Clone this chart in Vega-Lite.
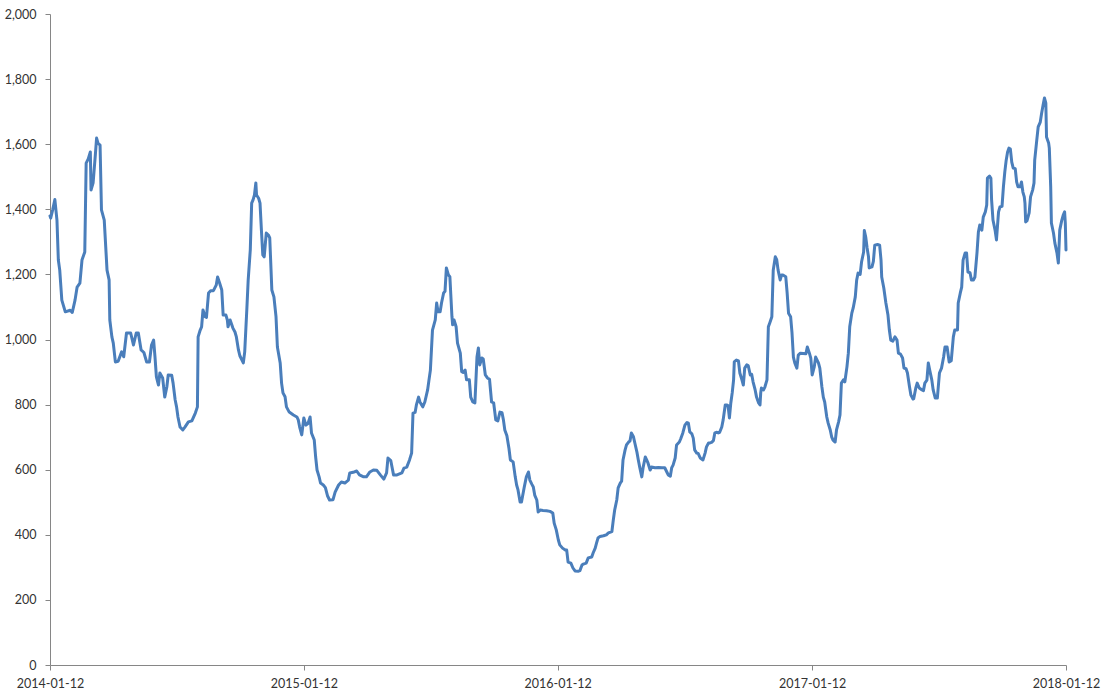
{
  "$schema": "https://vega.github.io/schema/vega-lite/v6.json",
  "width": 1016,
  "height": 651,
  "autosize": {"type": "none"},
  "padding": {"left": 50, "top": 14, "right": 39, "bottom": 34},
  "background": "white",
  "config": {"view": {"stroke": null}},
  "data": {"values": [
{"date":"2014-01-12","value":1380},{"date":"2014-01-13","value":1373},{"date":"2014-01-16","value":1400},{"date":"2014-01-19","value":1430},{"date":"2014-01-22","value":1367},{"date":"2014-01-24","value":1244},{"date":"2014-01-26","value":1213},{"date":"2014-01-29","value":1121},{"date":"2014-02-03","value":1085},{"date":"2014-02-10","value":1090},{"date":"2014-02-13","value":1083},{"date":"2014-02-17","value":1121},{"date":"2014-02-20","value":1161},{"date":"2014-02-24","value":1173},{"date":"2014-02-27","value":1244},{"date":"2014-03-03","value":1269},{"date":"2014-03-05","value":1542},{"date":"2014-03-08","value":1555},{"date":"2014-03-11","value":1576},{"date":"2014-03-12","value":1459},{"date":"2014-03-15","value":1481},{"date":"2014-03-18","value":1562},{"date":"2014-03-20","value":1619},{"date":"2014-03-22","value":1603},{"date":"2014-03-25","value":1597},{"date":"2014-03-27","value":1398},{"date":"2014-03-31","value":1367},{"date":"2014-04-04","value":1213},{"date":"2014-04-07","value":1183},{"date":"2014-04-08","value":1060},{"date":"2014-04-11","value":1008},{"date":"2014-04-13","value":989},{"date":"2014-04-16","value":931},{"date":"2014-04-20","value":933},{"date":"2014-04-25","value":962},{"date":"2014-04-28","value":947},{"date":"2014-05-02","value":1020},{"date":"2014-05-08","value":1020},{"date":"2014-05-12","value":983},{"date":"2014-05-16","value":1020},{"date":"2014-05-19","value":1020},{"date":"2014-05-23","value":968},{"date":"2014-05-27","value":960},{"date":"2014-05-31","value":931},{"date":"2014-06-04","value":931},{"date":"2014-06-07","value":983},{"date":"2014-06-10","value":998},{"date":"2014-06-12","value":946},{"date":"2014-06-14","value":885},{"date":"2014-06-17","value":860},{"date":"2014-06-19","value":897},{"date":"2014-06-23","value":882},{"date":"2014-06-26","value":823},{"date":"2014-06-29","value":854},{"date":"2014-07-01","value":891},{"date":"2014-07-06","value":890},{"date":"2014-07-08","value":866},{"date":"2014-07-11","value":814},{"date":"2014-07-13","value":793},{"date":"2014-07-15","value":762},{"date":"2014-07-18","value":731},{"date":"2014-07-22","value":722},{"date":"2014-07-25","value":731},{"date":"2014-07-30","value":747},{"date":"2014-08-04","value":750},{"date":"2014-08-09","value":774},{"date":"2014-08-12","value":793},{"date":"2014-08-13","value":1008},{"date":"2014-08-16","value":1029},{"date":"2014-08-18","value":1039},{"date":"2014-08-20","value":1091},{"date":"2014-08-23","value":1070},{"date":"2014-08-25","value":1068},{"date":"2014-08-28","value":1143},{"date":"2014-08-31","value":1150},{"date":"2014-09-04","value":1150},{"date":"2014-09-08","value":1167},{"date":"2014-09-10","value":1192},{"date":"2014-09-13","value":1173},{"date":"2014-09-16","value":1152},{"date":"2014-09-18","value":1075},{"date":"2014-09-22","value":1075},{"date":"2014-09-24","value":1060},{"date":"2014-09-25","value":1039},{"date":"2014-09-28","value":1060},{"date":"2014-10-02","value":1035},{"date":"2014-10-05","value":1023},{"date":"2014-10-07","value":1008},{"date":"2014-10-10","value":968},{"date":"2014-10-12","value":950},{"date":"2014-10-17","value":928},{"date":"2014-10-19","value":962},{"date":"2014-10-22","value":1091},{"date":"2014-10-24","value":1183},{"date":"2014-10-27","value":1275},{"date":"2014-10-29","value":1419},{"date":"2014-10-31","value":1429},{"date":"2014-11-02","value":1444},{"date":"2014-11-04","value":1481},{"date":"2014-11-05","value":1444},{"date":"2014-11-08","value":1434},{"date":"2014-11-10","value":1419},{"date":"2014-11-12","value":1336},{"date":"2014-11-14","value":1260},{"date":"2014-11-16","value":1254},{"date":"2014-11-19","value":1327},{"date":"2014-11-22","value":1321},{"date":"2014-11-24","value":1312},{"date":"2014-11-27","value":1152},{"date":"2014-11-30","value":1131},{"date":"2014-12-03","value":1070},{"date":"2014-12-05","value":977},{"date":"2014-12-09","value":928},{"date":"2014-12-11","value":866},{"date":"2014-12-13","value":836},{"date":"2014-12-16","value":824},{"date":"2014-12-18","value":793},{"date":"2014-12-22","value":777},{"date":"2014-12-28","value":768},
{"date":"2015-01-02","value":762},{"date":"2015-01-04","value":753},{"date":"2015-01-06","value":731},{"date":"2015-01-09","value":707},{"date":"2015-01-12","value":759},{"date":"2015-01-15","value":737},{"date":"2015-01-18","value":742},{"date":"2015-01-21","value":762},{"date":"2015-01-23","value":713},{"date":"2015-01-27","value":691},{"date":"2015-01-29","value":639},{"date":"2015-01-31","value":599},{"date":"2015-02-03","value":578},{"date":"2015-02-05","value":559},{"date":"2015-02-09","value":553},{"date":"2015-02-12","value":545},{"date":"2015-02-15","value":520},{"date":"2015-02-18","value":507},{"date":"2015-02-23","value":508},{"date":"2015-02-26","value":531},{"date":"2015-03-03","value":553},{"date":"2015-03-07","value":562},{"date":"2015-03-12","value":559},{"date":"2015-03-17","value":568},{"date":"2015-03-19","value":590},{"date":"2015-03-24","value":592},{"date":"2015-03-29","value":596},{"date":"2015-04-02","value":584},{"date":"2015-04-08","value":578},{"date":"2015-04-12","value":578},{"date":"2015-04-17","value":593},{"date":"2015-04-22","value":599},{"date":"2015-04-27","value":598},{"date":"2015-05-02","value":584},{"date":"2015-05-07","value":571},{"date":"2015-05-11","value":590},{"date":"2015-05-13","value":636},{"date":"2015-05-17","value":628},{"date":"2015-05-21","value":584},{"date":"2015-05-26","value":584},{"date":"2015-06-02","value":590},{"date":"2015-06-05","value":605},{"date":"2015-06-09","value":608},{"date":"2015-06-13","value":630},{"date":"2015-06-16","value":651},{"date":"2015-06-18","value":774},{"date":"2015-06-21","value":776},{"date":"2015-06-23","value":800},{"date":"2015-06-26","value":823},{"date":"2015-06-28","value":808},{"date":"2015-07-02","value":793},{"date":"2015-07-05","value":808},{"date":"2015-07-09","value":845},{"date":"2015-07-11","value":876},{"date":"2015-07-13","value":906},{"date":"2015-07-16","value":1029},{"date":"2015-07-20","value":1060},{"date":"2015-07-22","value":1112},{"date":"2015-07-24","value":1085},{"date":"2015-07-27","value":1085},{"date":"2015-07-29","value":1112},{"date":"2015-08-01","value":1143},{"date":"2015-08-03","value":1148},{"date":"2015-08-05","value":1220},{"date":"2015-08-08","value":1198},{"date":"2015-08-10","value":1193},{"date":"2015-08-13","value":1070},{"date":"2015-08-14","value":1045},{"date":"2015-08-16","value":1060},{"date":"2015-08-19","value":1039},{"date":"2015-08-21","value":989},{"date":"2015-08-25","value":958},{"date":"2015-08-27","value":901},{"date":"2015-08-29","value":899},{"date":"2015-09-01","value":906},{"date":"2015-09-03","value":876},{"date":"2015-09-07","value":876},{"date":"2015-09-09","value":823},{"date":"2015-09-12","value":808},{"date":"2015-09-15","value":805},{"date":"2015-09-18","value":946},{"date":"2015-09-20","value":974},{"date":"2015-09-22","value":922},{"date":"2015-09-25","value":943},{"date":"2015-09-27","value":940},{"date":"2015-09-30","value":891},{"date":"2015-10-03","value":882},{"date":"2015-10-06","value":878},{"date":"2015-10-09","value":808},{"date":"2015-10-12","value":805},{"date":"2015-10-15","value":753},{"date":"2015-10-18","value":750},{"date":"2015-10-21","value":777},{"date":"2015-10-24","value":775},{"date":"2015-10-26","value":753},{"date":"2015-10-28","value":722},{"date":"2015-10-31","value":704},{"date":"2015-11-03","value":665},{"date":"2015-11-05","value":630},{"date":"2015-11-09","value":624},{"date":"2015-11-12","value":578},{"date":"2015-11-14","value":553},{"date":"2015-11-16","value":538},{"date":"2015-11-19","value":501},{"date":"2015-11-21","value":501},{"date":"2015-11-25","value":547},{"date":"2015-11-28","value":578},{"date":"2015-12-01","value":593},{"date":"2015-12-03","value":568},{"date":"2015-12-06","value":555},{"date":"2015-12-08","value":547},{"date":"2015-12-10","value":522},{"date":"2015-12-13","value":507},{"date":"2015-12-15","value":470},{"date":"2015-12-18","value":476},{"date":"2015-12-22","value":475},{"date":"2015-12-27","value":474},
{"date":"2016-01-01","value":472},{"date":"2016-01-05","value":467},{"date":"2016-01-07","value":436},{"date":"2016-01-10","value":415},{"date":"2016-01-13","value":384},{"date":"2016-01-15","value":369},{"date":"2016-01-19","value":359},{"date":"2016-01-23","value":353},{"date":"2016-01-25","value":353},{"date":"2016-01-27","value":316},{"date":"2016-01-31","value":313},{"date":"2016-02-03","value":298},{"date":"2016-02-06","value":289},{"date":"2016-02-11","value":288},{"date":"2016-02-13","value":290},{"date":"2016-02-16","value":307},{"date":"2016-02-18","value":310},{"date":"2016-02-22","value":313},{"date":"2016-02-25","value":329},{"date":"2016-03-01","value":332},{"date":"2016-03-03","value":344},{"date":"2016-03-06","value":359},{"date":"2016-03-08","value":375},{"date":"2016-03-10","value":390},{"date":"2016-03-13","value":395},{"date":"2016-03-18","value":397},{"date":"2016-03-22","value":400},{"date":"2016-03-25","value":406},{"date":"2016-03-30","value":410},{"date":"2016-04-01","value":445},{"date":"2016-04-03","value":476},{"date":"2016-04-06","value":507},{"date":"2016-04-08","value":544},{"date":"2016-04-11","value":559},{"date":"2016-04-13","value":565},{"date":"2016-04-15","value":630},{"date":"2016-04-18","value":661},{"date":"2016-04-20","value":676},{"date":"2016-04-23","value":685},{"date":"2016-04-25","value":688},{"date":"2016-04-27","value":713},{"date":"2016-04-30","value":701},{"date":"2016-05-02","value":682},{"date":"2016-05-05","value":654},{"date":"2016-05-07","value":630},{"date":"2016-05-09","value":608},{"date":"2016-05-12","value":578},{"date":"2016-05-14","value":608},{"date":"2016-05-17","value":639},{"date":"2016-05-19","value":630},{"date":"2016-05-21","value":620},{"date":"2016-05-24","value":599},{"date":"2016-05-26","value":608},{"date":"2016-05-31","value":606},{"date":"2016-06-05","value":607},{"date":"2016-06-10","value":606},{"date":"2016-06-14","value":606},{"date":"2016-06-17","value":593},{"date":"2016-06-19","value":584},{"date":"2016-06-22","value":580},{"date":"2016-06-24","value":606},{"date":"2016-06-26","value":614},{"date":"2016-06-29","value":636},{"date":"2016-07-01","value":676},{"date":"2016-07-05","value":685},{"date":"2016-07-07","value":695},{"date":"2016-07-10","value":713},{"date":"2016-07-13","value":737},{"date":"2016-07-16","value":745},{"date":"2016-07-18","value":743},{"date":"2016-07-20","value":716},{"date":"2016-07-23","value":710},{"date":"2016-07-25","value":697},{"date":"2016-07-27","value":661},{"date":"2016-07-30","value":651},{"date":"2016-08-01","value":650},{"date":"2016-08-04","value":636},{"date":"2016-08-08","value":630},{"date":"2016-08-11","value":651},{"date":"2016-08-13","value":670},{"date":"2016-08-16","value":682},{"date":"2016-08-18","value":682},{"date":"2016-08-21","value":685},{"date":"2016-08-23","value":690},{"date":"2016-08-25","value":713},{"date":"2016-08-28","value":715},{"date":"2016-08-30","value":713},{"date":"2016-09-01","value":715},{"date":"2016-09-04","value":731},{"date":"2016-09-06","value":753},{"date":"2016-09-09","value":799},{"date":"2016-09-11","value":799},{"date":"2016-09-13","value":797},{"date":"2016-09-15","value":759},{"date":"2016-09-17","value":805},{"date":"2016-09-19","value":836},{"date":"2016-09-21","value":876},{"date":"2016-09-22","value":931},{"date":"2016-09-25","value":937},{"date":"2016-09-28","value":934},{"date":"2016-09-30","value":897},{"date":"2016-10-03","value":876},{"date":"2016-10-05","value":860},{"date":"2016-10-07","value":912},{"date":"2016-10-10","value":922},{"date":"2016-10-12","value":920},{"date":"2016-10-15","value":891},{"date":"2016-10-17","value":893},{"date":"2016-10-19","value":870},{"date":"2016-10-22","value":845},{"date":"2016-10-24","value":823},{"date":"2016-10-27","value":805},{"date":"2016-10-29","value":799},{"date":"2016-10-30","value":836},{"date":"2016-10-31","value":851},{"date":"2016-11-03","value":845},{"date":"2016-11-05","value":854},{"date":"2016-11-08","value":876},{"date":"2016-11-10","value":1039},{"date":"2016-11-12","value":1051},{"date":"2016-11-15","value":1070},{"date":"2016-11-17","value":1213},{"date":"2016-11-20","value":1254},{"date":"2016-11-22","value":1245},{"date":"2016-11-24","value":1213},{"date":"2016-11-27","value":1183},{"date":"2016-11-29","value":1198},{"date":"2016-12-01","value":1198},{"date":"2016-12-05","value":1193},{"date":"2016-12-07","value":1143},{"date":"2016-12-09","value":1081},{"date":"2016-12-12","value":1070},{"date":"2016-12-14","value":1020},{"date":"2016-12-16","value":946},{"date":"2016-12-18","value":928},{"date":"2016-12-21","value":912},{"date":"2016-12-23","value":952},{"date":"2016-12-26","value":958},{"date":"2016-12-30","value":957},
{"date":"2017-01-03","value":956},{"date":"2017-01-05","value":977},{"date":"2017-01-08","value":958},{"date":"2017-01-10","value":943},{"date":"2017-01-12","value":891},{"date":"2017-01-15","value":916},{"date":"2017-01-17","value":946},{"date":"2017-01-21","value":928},{"date":"2017-01-23","value":912},{"date":"2017-01-26","value":854},{"date":"2017-01-28","value":823},{"date":"2017-01-30","value":808},{"date":"2017-02-02","value":762},{"date":"2017-02-04","value":743},{"date":"2017-02-07","value":722},{"date":"2017-02-09","value":701},{"date":"2017-02-11","value":691},{"date":"2017-02-14","value":685},{"date":"2017-02-16","value":722},{"date":"2017-02-19","value":747},{"date":"2017-02-21","value":768},{"date":"2017-02-23","value":866},{"date":"2017-02-26","value":876},{"date":"2017-02-28","value":870},{"date":"2017-03-03","value":916},{"date":"2017-03-05","value":958},{"date":"2017-03-07","value":1039},{"date":"2017-03-10","value":1081},{"date":"2017-03-12","value":1097},{"date":"2017-03-15","value":1131},{"date":"2017-03-17","value":1183},{"date":"2017-03-19","value":1204},{"date":"2017-03-22","value":1200},{"date":"2017-03-24","value":1238},{"date":"2017-03-27","value":1269},{"date":"2017-03-28","value":1335},{"date":"2017-03-30","value":1315},{"date":"2017-04-01","value":1281},{"date":"2017-04-03","value":1254},{"date":"2017-04-04","value":1220},{"date":"2017-04-08","value":1223},{"date":"2017-04-10","value":1240},{"date":"2017-04-12","value":1290},{"date":"2017-04-16","value":1292},{"date":"2017-04-19","value":1290},{"date":"2017-04-21","value":1244},{"date":"2017-04-22","value":1192},{"date":"2017-04-25","value":1158},{"date":"2017-04-28","value":1112},{"date":"2017-05-01","value":1075},{"date":"2017-05-03","value":1029},{"date":"2017-05-05","value":998},{"date":"2017-05-08","value":995},{"date":"2017-05-11","value":1008},{"date":"2017-05-14","value":998},{"date":"2017-05-16","value":958},{"date":"2017-05-19","value":955},{"date":"2017-05-22","value":943},{"date":"2017-05-24","value":912},{"date":"2017-05-27","value":910},{"date":"2017-05-29","value":897},{"date":"2017-06-01","value":854},{"date":"2017-06-03","value":829},{"date":"2017-06-06","value":817},{"date":"2017-06-07","value":818},{"date":"2017-06-10","value":851},{"date":"2017-06-12","value":866},{"date":"2017-06-15","value":851},{"date":"2017-06-19","value":845},{"date":"2017-06-21","value":843},{"date":"2017-06-23","value":866},{"date":"2017-06-26","value":875},{"date":"2017-06-28","value":928},{"date":"2017-06-30","value":906},{"date":"2017-07-03","value":876},{"date":"2017-07-05","value":845},{"date":"2017-07-08","value":820},{"date":"2017-07-11","value":820},{"date":"2017-07-14","value":897},{"date":"2017-07-17","value":912},{"date":"2017-07-20","value":946},{"date":"2017-07-22","value":977},{"date":"2017-07-25","value":977},{"date":"2017-07-28","value":931},{"date":"2017-07-31","value":935},{"date":"2017-08-03","value":1008},{"date":"2017-08-05","value":1029},{"date":"2017-08-09","value":1029},{"date":"2017-08-10","value":1112},{"date":"2017-08-13","value":1143},{"date":"2017-08-15","value":1161},{"date":"2017-08-17","value":1244},{"date":"2017-08-20","value":1266},{"date":"2017-08-22","value":1266},{"date":"2017-08-24","value":1207},{"date":"2017-08-27","value":1205},{"date":"2017-08-29","value":1183},{"date":"2017-09-01","value":1183},{"date":"2017-09-03","value":1192},{"date":"2017-09-06","value":1266},{"date":"2017-09-08","value":1330},{"date":"2017-09-10","value":1352},{"date":"2017-09-13","value":1336},{"date":"2017-09-15","value":1376},{"date":"2017-09-18","value":1392},{"date":"2017-09-20","value":1413},{"date":"2017-09-21","value":1496},{"date":"2017-09-24","value":1502},{"date":"2017-09-26","value":1495},{"date":"2017-09-27","value":1429},{"date":"2017-09-29","value":1367},{"date":"2017-10-02","value":1336},{"date":"2017-10-04","value":1306},{"date":"2017-10-07","value":1392},{"date":"2017-10-09","value":1407},{"date":"2017-10-12","value":1409},{"date":"2017-10-14","value":1469},{"date":"2017-10-16","value":1515},{"date":"2017-10-18","value":1551},{"date":"2017-10-20","value":1576},{"date":"2017-10-22","value":1588},{"date":"2017-10-24","value":1585},{"date":"2017-10-26","value":1545},{"date":"2017-10-28","value":1527},{"date":"2017-10-31","value":1525},{"date":"2017-11-02","value":1484},{"date":"2017-11-04","value":1469},{"date":"2017-11-07","value":1469},{"date":"2017-11-09","value":1484},{"date":"2017-11-11","value":1453},{"date":"2017-11-13","value":1438},{"date":"2017-11-14","value":1419},{"date":"2017-11-15","value":1361},{"date":"2017-11-17","value":1365},{"date":"2017-11-20","value":1389},{"date":"2017-11-22","value":1438},{"date":"2017-11-25","value":1459},{"date":"2017-11-27","value":1481},{"date":"2017-11-28","value":1551},{"date":"2017-12-01","value":1613},{"date":"2017-12-03","value":1653},{"date":"2017-12-06","value":1668},{"date":"2017-12-08","value":1696},{"date":"2017-12-10","value":1720},{"date":"2017-12-12","value":1742},{"date":"2017-12-14","value":1726},{"date":"2017-12-15","value":1622},{"date":"2017-12-18","value":1604},{"date":"2017-12-19","value":1588},{"date":"2017-12-21","value":1469},{"date":"2017-12-22","value":1358},{"date":"2017-12-25","value":1327},{"date":"2017-12-27","value":1296},{"date":"2017-12-30","value":1266},
{"date":"2018-01-01","value":1235},{"date":"2018-01-03","value":1336},{"date":"2018-01-06","value":1367},{"date":"2018-01-08","value":1382},{"date":"2018-01-10","value":1392},{"date":"2018-01-11","value":1358},{"date":"2018-01-12","value":1275}
  ]},
  "mark": {"type": "line", "color": "#4A7EBB", "strokeWidth": 3, "strokeJoin": "round", "strokeCap": "round"},
  "encoding": {
    "x": {
      "field": "date", "type": "temporal",
      "scale": {"type": "utc", "nice": false, "domain": [{"year": 2014, "month": 1, "date": 12, "utc": true}, {"year": 2018, "month": 1, "date": 12, "utc": true}]},
      "axis": {
        "title": null, "grid": false,
        "labelExpr": "utcFormat(datum.value, '%Y-%m-%d')",
        "values": [{"year": 2014, "month": 1, "date": 12, "utc": true}, {"year": 2015, "month": 1, "date": 12, "utc": true}, {"year": 2016, "month": 1, "date": 12, "utc": true}, {"year": 2017, "month": 1, "date": 12, "utc": true}, {"year": 2018, "month": 1, "date": 12, "utc": true}],
        "domainColor": "#868686", "tickColor": "#868686", "tickSize": 5, "domainWidth": 1, "tickWidth": 1,
        "labelFont": "Lato", "labelFontSize": 12.5, "labelColor": "#333333", "labelPadding": 7,
        "labelFlush": false, "labelOverlap": false
      }
    },
    "y": {
      "field": "value", "type": "quantitative",
      "scale": {"domain": [0, 2000], "nice": false},
      "axis": {
        "title": null, "grid": false,
        "labelExpr": "format(datum.value, ',.0f')",
        "values": [0, 200, 400, 600, 800, 1000, 1200, 1400, 1600, 1800, 2000],
        "domainColor": "#868686", "tickColor": "#868686", "tickSize": 5, "domainWidth": 1, "tickWidth": 1,
        "labelFont": "Lato", "labelFontSize": 12.5, "labelColor": "#333333", "labelPadding": 9
      }
    }
  }
}
